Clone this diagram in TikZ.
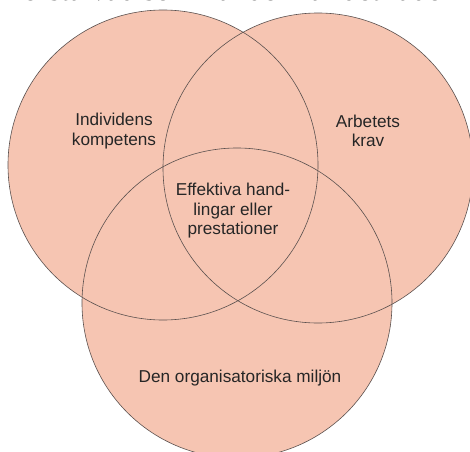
\documentclass[tikz,border=0pt]{standalone}
\usepackage{fontspec}
\setmainfont{Liberation Sans}
\newfontfamily\serifx{Liberation Serif}
\definecolor{venn}{RGB}{246,197,178}
\definecolor{rim}{RGB}{90,80,78}
\begin{document}
\begin{tikzpicture}[x=1pt,y=1pt,
  circ/.style={fill=venn},
  rimline/.style={draw=rim,line width=0.6pt},
  lbl/.style={font=\fontsize{17.2}{19.5}\selectfont,align=center,text=black!85}]
\useasboundingbox (0,0) rectangle (470,451);
\clip (0,0) rectangle (470,451);
\node[anchor=base,inner sep=0pt,font=\serifx\fontsize{31}{34}\selectfont] (top) at (232,450) {förstå vad som händer när det råder};
\coordinate (cL) at (163,286);
\coordinate (cR) at (318,283);
\coordinate (cB) at (237,148);
\fill[circ] (cL) circle (155);
\fill[circ] (cR) circle (155);
\fill[circ] (cB) circle (155);
\draw[rimline] (cL) circle (155);
\draw[rimline] (cR) circle (155);
\draw[rimline] (cB) circle (155);
\node[lbl] (ind) at (114,320) {Individens\\kompetens};
\node[lbl] (arb) at (368,320) {Arbetets\\krav};
\node[lbl] (eff) at (233,240) {Effektiva hand-\\lingar eller\\prestationer};
\node[lbl] (org) at (240,73) {Den organisatoriska miljön};
\end{tikzpicture}
\end{document}
